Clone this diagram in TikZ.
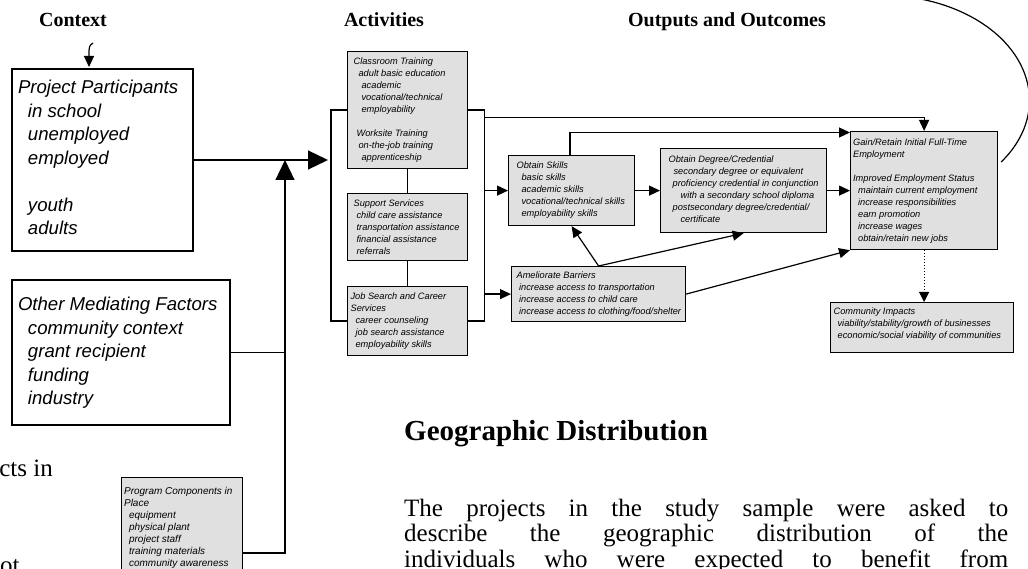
\documentclass[tikz,border=0pt]{standalone}
\usepackage{fontspec}
\setmainfont{Liberation Serif}
\newfontfamily\boxfont{Liberation Sans}
\usepackage{tikz}
\usetikzlibrary{positioning}
\usetikzlibrary{shapes.geometric, arrows, arrows.meta}
\usetikzlibrary{calc, shapes, backgrounds}
\tikzstyle{arrow} = [line width=1.2pt,-{Triangle[length=11pt,width=10pt]}]
\tikzstyle{bigarrow} = [line width=1.2pt,-{Triangle[length=20pt,width=19pt]}]
\tikzstyle{dotarrow} = [line width=1pt,dotted,-{Triangle[length=10pt,width=10pt]}]

\newcommand{\cardfont}{\boxfont\itshape\fontsize{9.25}{12}\selectfont}
\newcommand{\compfont}{\boxfont\itshape\fontsize{10}{12}\selectfont}
\newcommand{\outerfont}{\boxfont\itshape\fontsize{18.6}{23.5}\selectfont}
% width, height, left gap, top gap, font, lines
\newcommand{\cardtext}[6]{\parbox[t][#2][t]{#1}{#5\leftskip=#3\relax\vspace*{#4}\strut #6}}

\begin{document}
\begin{tikzpicture}[
    x = 1pt, y = -1pt,
    card/.style = {draw, line width=1.2pt, fill=black!12, anchor=north west, inner sep=0pt},
    outerbox/.style = {draw, line width=2pt, fill=white, anchor=north west, inner sep=0pt},
    heading/.style = {anchor=base, font=\bfseries\fontsize{20}{24}\selectfont},
    body/.style = {inner sep=0pt, font=\fontsize{25}{25.5}\selectfont},
    link/.style = {line width=1.2pt}
  ]
  \useasboundingbox (0,0) rectangle (1028,569);
  \clip (0,0) rectangle (1028,569);

  % Column titles
  \node[heading] (ctxT) at (73,27) {Context};
  \node[heading] (actT) at (384,27) {Activities};
  \node[heading] (outT) at (727,27) {Outputs and Outcomes};

  % Context
  \node[outerbox] (PP) at (11,68) {\cardtext{181pt}{182pt}{6pt}{8.5pt}{\outerfont}{Project Participants\\
    \hspace*{10pt}in school\\
    \hspace*{10pt}unemployed\\
    \hspace*{10pt}employed\\[23.5pt]
    \hspace*{10pt}youth\\
    \hspace*{10pt}adults}};
  \node[outerbox] (MF) at (11,279) {\cardtext{218pt}{145pt}{6pt}{14.5pt}{\outerfont}{Other Mediating Factors\\
    \hspace*{10pt}community context\\
    \hspace*{10pt}grant recipient\\
    \hspace*{10pt}funding\\
    \hspace*{10pt}industry}};
  \node[card] (PC) at (121,477) {\cardtext{121pt}{110pt}{2.5pt}{8.1pt}{\compfont}{Program Components in\\
    Place\\
    \hspace*{5pt}equipment\\
    \hspace*{5pt}physical plant\\
    \hspace*{5pt}project staff\\
    \hspace*{5pt}training materials\\
    \hspace*{5pt}community awareness}};

  % Activities
  \node[card] (CT) at (347,51) {\cardtext{120pt}{117pt}{6pt}{4.9pt}{\cardfont}{Classroom Training\\
    \hspace*{5pt}adult basic education\\
    \hspace*{8pt}academic\\
    \hspace*{8pt}vocational/technical\\
    \hspace*{8pt}employability\\[12pt]
    \hspace*{3pt}Worksite Training\\
    \hspace*{5pt}on-the-job training\\
    \hspace*{8pt}apprenticeship}};
  \node[card] (SS) at (347,193) {\cardtext{120pt}{67pt}{6pt}{4.9pt}{\cardfont}{Support Services\\
    \hspace*{3pt}child care assistance\\
    \hspace*{3pt}transportation assistance\\
    \hspace*{3pt}financial assistance\\
    \hspace*{3pt}referrals}};
  \node[card] (JS) at (347,286) {\cardtext{120pt}{69pt}{3pt}{4.9pt}{\cardfont}{Job Search and Career\\
    Services\\
    \hspace*{5pt}career counseling\\
    \hspace*{5pt}job search assistance\\
    \hspace*{5pt}employability skills}};

  % Outputs and outcomes
  \node[card] (OS) at (508,155) {\cardtext{126pt}{70pt}{8pt}{4.3pt}{\cardfont}{Obtain Skills\\
    \hspace*{5pt}basic skills\\
    \hspace*{5pt}academic skills\\
    \hspace*{5pt}vocational/technical skills\\
    \hspace*{5pt}employability skills}};
  \node[card] (OD) at (660,148) {\cardtext{166pt}{84pt}{8pt}{5.9pt}{\cardfont}{Obtain Degree/Credential\\
    \hspace*{5pt}secondary degree or equivalent\\
    \hspace*{4pt}proficiency credential in conjunction\\
    \hspace*{12pt}with a secondary school diploma\\
    \hspace*{4pt}postsecondary degree/credential/\\
    \hspace*{12pt}certificate}};
  \node[card] (GR) at (850,131) {\cardtext{147pt}{118pt}{2.5pt}{5.6pt}{\cardfont}{Gain/Retain Initial Full-Time\\
    Employment\\[12pt]
    Improved Employment Status\\
    \hspace*{5pt}maintain current employment\\
    \hspace*{5pt}increase responsibilities\\
    \hspace*{5pt}earn promotion\\
    \hspace*{5pt}increase wages\\
    \hspace*{5pt}obtain/retain new jobs}};
  \node[card] (AB) at (511,266) {\cardtext{174pt}{55pt}{5pt}{3.9pt}{\cardfont}{Ameliorate Barriers\\
    \hspace*{2.5pt}increase access to transportation\\
    \hspace*{2.5pt}increase access to child care\\
    \hspace*{2.5pt}increase access to clothing/food/shelter}};
  \node[card] (CI) at (830,302) {\cardtext{183pt}{50pt}{3pt}{3.9pt}{\cardfont}{Community Impacts\\
    \hspace*{4pt}viability/stability/growth of businesses\\
    \hspace*{4pt}economic/social viability of communities}};

  % Connectors
  \coordinate (actL) at ($(CT.west)+(-16,0)$);
  \coordinate (actR) at ($(CT.east)+(16,0)$);
  \coordinate (join) at ($(PP.east)+(91,0)$);
  \draw[arrow] ($(PP.north west)+(82,-25)$) .. controls ($(PP.north west)+(78,-22)$) .. ($(PP.north west)+(78,-1)$);
  \draw[bigarrow] (PP.east) -- ($(actL |- PP.east)+(-3,0)$);
  \draw[link] (MF.east) -- (MF.east -| join);
  \draw[bigarrow] ($(PC.north east)+(0,76)$) -| (join);
  \draw[link] (CT.west) -- (actL) |- (JS.west);
  \draw[link] (CT.east) -- (actR) |- (JS.east);
  \draw[link] (CT.south) -- (SS.north);
  \draw[link] (SS.south) -- (JS.north);
  \draw[arrow] (actR |- OS.west) -- (OS.west);
  \draw[arrow] (actR |- AB.west) -- (AB.west);
  \draw[arrow] ($(actR)+(0,7.5)$) -| (GR.north);
  \draw[arrow] ($(OS.north west)+(62,0)$) |- ($(GR.north west)+(0,1.5)$);
  \draw[arrow] (OS.east) -- (OD.west);
  \draw[arrow] (OD.east) -- (GR.west);
  \draw[arrow] (AB.north) -- (OS.south);
  \draw[arrow] (AB.north) -- (OD.south);
  \draw[arrow] (AB.east) -- (GR.south west);
  \draw[dotarrow] (GR.south) -- (GR.south |- CI.north);
  \draw[link] ($(GR.north east)+(3,31)$) arc[start angle=36, end angle=-100, x radius=148, y radius=105];

  % Page text
  \node[body, anchor=base east] (frag1) at (53,476) {cts in};
  \node[body, anchor=base west] (frag2) at (0,573) {ot};
  \node[anchor=base west, inner sep=0pt, font=\bfseries\fontsize{29}{34}\selectfont] (geoT) at (404,440) {Geographic Distribution};
  \node[body, anchor=base west] (para) at (404,516) {\parbox[t]{604pt}{\fontsize{25}{25.5}\selectfont
    \makebox[604pt][s]{The projects in the study sample were asked to}\\
    \makebox[604pt][s]{describe the geographic distribution of the}\\
    \makebox[604pt][s]{individuals who were expected to benefit from}}};
\end{tikzpicture}
\end{document}
